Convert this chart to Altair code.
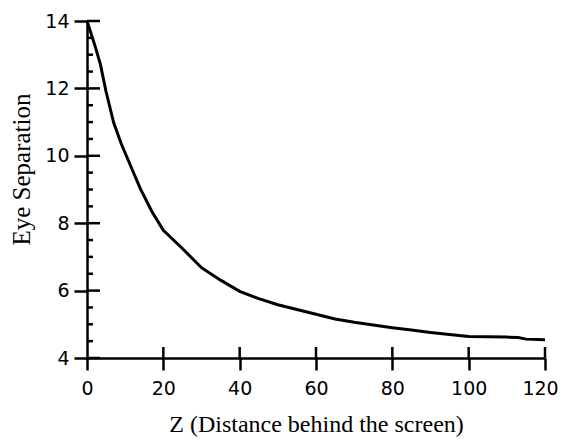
import altair as alt
import pandas as pd

# Curve
z_vals = [0, 2, 3.5, 5, 7, 9, 10.5, 12, 14, 17, 20, 25, 30, 35, 40, 45, 50, 55, 60,
          65, 70, 75, 80, 85, 90, 95, 100, 105, 110, 113, 115, 120]
sep_vals = [14.0, 13.3, 12.72, 11.9, 10.98, 10.35, 9.95, 9.55, 9.02, 8.35, 7.79, 7.25,
            6.68, 6.31, 5.98, 5.76, 5.58, 5.44, 5.3, 5.16, 5.06, 4.98, 4.9, 4.83,
            4.76, 4.7, 4.64, 4.63, 4.62, 4.61, 4.56, 4.54]

x_ticks = [0, 20, 40, 60, 80, 100, 120]
y_ticks = [4, 6, 8, 10, 12, 14]
y_minor = [4.5, 5, 5.5, 6.5, 7, 7.5, 8.5, 9, 9.5, 10.5, 11, 11.5, 12.5, 13, 13.5]

W, H = 458, 337

df = pd.DataFrame({"z": z_vals, "sep": sep_vals})
xscale = alt.Scale(domain=[0, 120], nice=False, zero=False)
yscale = alt.Scale(domain=[4, 14], nice=False, zero=False)

x_axis = alt.Axis(values=x_ticks, title="Z (Distance behind the screen)",
                  titleFont="Liberation Serif", titleFontSize=24, titleFontWeight="normal",
                  titleColor="black", titleY=73, titleBaseline="alphabetic",
                  labelFont="DejaVu Sans", labelFontSize=19, labelColor="black",
                  labelPadding=9, labelFlush=False, labelOverlap=False,
                  labelOffset={"condition": {"test": "datum.value == 120", "value": -5},
                               "value": 0},
                  tickSize=12, tickWidth=2.5, tickColor="black",
                  domainColor="black", domainWidth=2.5, grid=False, format="d")
y_axis = alt.Axis(values=y_ticks, title="Eye Separation",
                  titleFont="Liberation Serif", titleFontSize=25, titleFontWeight="normal",
                  titleColor="black", titleAngle=270, titleX=-58, titleY=148,
                  titleAlign="center", titleBaseline="alphabetic",
                  labelFont="DejaVu Sans", labelFontSize=19, labelColor="black",
                  labelPadding=5, labelFlush=False, labelOverlap=False,
                  tickSize=13, tickWidth=2.5, tickColor="black",
                  domainColor="black", domainWidth=2.5, grid=False, format="d")

line = alt.Chart(df).mark_line(color="black", strokeWidth=3).encode(
    x=alt.X("z:Q", scale=xscale, axis=x_axis),
    y=alt.Y("sep:Q", scale=yscale, axis=y_axis),
)

y_major_in = alt.Chart(pd.DataFrame({"t": y_ticks})).mark_rule(
    color="black", strokeWidth=2.5).encode(
    y=alt.Y("t:Q", scale=yscale, axis=y_axis),
    x=alt.value(0), x2=alt.value(13))

y_minor_in = alt.Chart(pd.DataFrame({"t": y_minor})).mark_rule(
    color="black", strokeWidth=2.5).encode(
    y=alt.Y("t:Q", scale=yscale, axis=y_axis),
    x=alt.value(0), x2=alt.value(6))

x_major_in = alt.Chart(pd.DataFrame({"t": x_ticks[1:]})).mark_rule(
    color="black", strokeWidth=2.5).encode(
    x=alt.X("t:Q", scale=xscale, axis=x_axis),
    y=alt.value(H - 11), y2=alt.value(H))

chart = alt.layer(line, y_major_in, y_minor_in, x_major_in).properties(
    width=W, height=H,
    autosize=alt.AutoSizeParams(type="none"),
    padding={"left": 79, "top": 13, "right": 14, "bottom": 79},
    background="white",
).configure_view(stroke=None)

chart.save("out.html", embed_options={"renderer": "svg", "actions": False})
